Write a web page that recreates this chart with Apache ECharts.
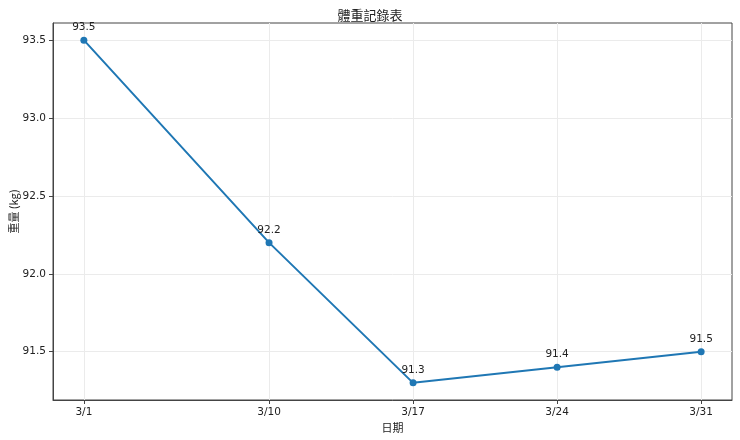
<!DOCTYPE html>
<html>
<head>
<meta charset="utf-8">
<script src="https://cdn.jsdelivr.net/npm/echarts@6/dist/echarts.min.js"></script>
<style>html,body{margin:0;padding:0;background:#fff}#c{width:740px;height:440px}</style>
</head>
<body>
<div id="c"></div>
<script>
var dates = ['3/1', '3/10', '3/17', '3/24', '3/31'];
var weights = [93.5, 92.2, 91.3, 91.4, 91.5];
var yTicks = [91.5, 92.0, 92.5, 93.0, 93.5];
var titleText = '體重記錄表';
var xName = '日期';
var yName = '重量 (kg)';

var days = dates.map(function (d) { return parseInt(d.split('/')[1], 10); });
var points = days.map(function (d, i) { return [d, weights[i]]; });
var font = '"DejaVu Sans", "Noto Sans CJK TC", sans-serif';
var cjk = '"Noto Sans CJK TC", "DejaVu Sans", sans-serif';

var chart = echarts.init(document.getElementById('c'));
chart.setOption({
  animation: false,
  title: {
    text: titleText, left: 'center', top: 4,
    textStyle: { fontFamily: cjk, fontSize: 13, fontWeight: 'normal', color: '#222' }
  },
  grid: { left: 53, right: 8, top: 23, bottom: 40, outerBoundsMode: 'none', containLabel: false,
    show: true, borderColor: '#444', borderWidth: 1, backgroundColor: 'transparent' },
  xAxis: {
    type: 'value', min: -0.5, max: 32.5,
    name: xName, nameLocation: 'middle', nameGap: 22, nameMoveOverlap: false,
    nameTextStyle: { fontFamily: cjk, fontSize: 11, color: '#222' },
    axisLine: { show: true, onZero: false, lineStyle: { color: '#444' } },
    axisTick: { show: true, inside: false, length: 4, customValues: days, lineStyle: { color: '#444' } },
    axisLabel: { customValues: days, fontFamily: font, fontSize: 10.5, color: '#222', margin: 7,
      formatter: function (v) { return '3/' + v; } },
    splitLine: { show: true, lineStyle: { color: '#ebebeb', width: 1 } }
  },
  yAxis: {
    type: 'value', min: 91.19, max: 93.61,
    name: yName, nameLocation: 'middle', nameGap: 34, nameMoveOverlap: false,
    nameTextStyle: { fontFamily: cjk, fontSize: 11, color: '#222' },
    axisLine: { show: true, onZero: false, lineStyle: { color: '#444' } },
    axisTick: { show: true, inside: false, length: 4, customValues: yTicks, lineStyle: { color: '#444' } },
    axisLabel: { customValues: yTicks, fontFamily: font, fontSize: 10.5, color: '#222', margin: 7,
      formatter: function (v) { return v.toFixed(1); } },
    splitLine: { show: true, lineStyle: { color: '#ebebeb', width: 1 } }
  },
  series: [{
    type: 'line', data: points,
    symbol: 'circle', symbolSize: 7,
    lineStyle: { color: '#1f77b4', width: 2 },
    itemStyle: { color: '#1f77b4' },
    label: { show: true, position: 'top', distance: 4, fontFamily: font, fontSize: 10.5, color: '#222',
      formatter: function (p) { return p.value[1].toFixed(1); } }
  }]
});
</script>
</body>
</html>
